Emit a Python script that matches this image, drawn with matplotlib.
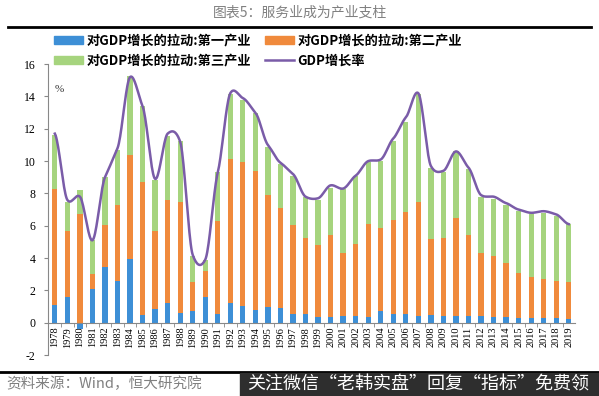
import numpy as np
import matplotlib.pyplot as plt
from matplotlib.patches import Rectangle, Patch
from matplotlib.lines import Line2D

plt.rcParams['font.family'] = ['Noto Sans CJK SC', 'DejaVu Sans']

years = [str(y) for y in range(1978, 2020)]
primary = [1.1, 1.6, -0.4, 2.1, 3.45, 2.6, 3.95, 0.45, 0.85, 1.2,
           0.6, 0.7, 1.6, 0.55, 1.2, 1.05, 0.8, 1.0, 0.9, 0.55,
           0.55, 0.35, 0.35, 0.4, 0.4, 0.35, 0.7, 0.55, 0.55, 0.4,
           0.5, 0.4, 0.4, 0.4, 0.4, 0.35, 0.35, 0.3, 0.3, 0.3,
           0.3, 0.25]
secondary = [7.2, 4.05, 6.7, 0.9, 2.6, 4.7, 6.4, 8.25, 4.85, 6.4,
             6.9, 1.8, 1.6, 5.75, 8.95, 8.9, 8.6, 6.9, 6.2, 5.5,
             4.7, 4.45, 5.1, 3.9, 4.5, 5.75, 5.15, 5.8, 6.3, 7.05,
             4.65, 4.85, 6.1, 5.0, 3.9, 3.75, 3.35, 2.8, 2.55, 2.4,
             2.3, 2.25]
tertiary = [3.3, 1.85, 1.5, 2.1, 2.95, 3.4, 4.9, 4.7, 3.15, 3.95,
            3.75, 1.6, 0.65, 3.05, 4.0, 3.85, 3.6, 2.95, 2.75, 3.0,
            2.55, 2.8, 2.9, 3.95, 4.15, 3.85, 4.15, 4.9, 5.6, 6.7,
            4.4, 4.05, 4.1, 4.1, 3.45, 3.55, 3.6, 3.8, 3.9, 4.1,
            4.0, 3.6]
gdp = [11.7, 7.6, 7.8, 5.1, 9.0, 10.8, 15.2, 13.4, 8.9, 11.7,
       11.2, 4.2, 3.9, 9.3, 14.2, 13.9, 13.0, 11.0, 9.9, 9.2,
       7.8, 7.7, 8.5, 8.3, 9.1, 10.0, 10.1, 11.4, 12.7, 14.2,
       9.7, 9.4, 10.6, 9.6, 7.9, 7.8, 7.4, 7.0, 6.8, 6.9,
       6.7, 6.1]

labels = ['对GDP增长的拉动:第一产业', '对GDP增长的拉动:第二产业',
          '对GDP增长的拉动:第三产业', 'GDP增长率']
c_blue = '#3d8fd6'
c_orange = '#f08a3c'
c_green = '#a6d47e'
c_line = '#7a5ca8'

x = np.arange(len(years))
p = np.array(primary)
s = np.array(secondary)
t = np.array(tertiary)
base = np.maximum(p, 0)

fig = plt.figure(figsize=(5.99, 3.96), dpi=100)
ax = fig.add_axes([0.080, 0.1035, 0.880, 0.7345])

w = 0.42
ax.bar(x, p, w, color=c_blue, zorder=2)
ax.bar(x, s, w, bottom=base, color=c_orange, zorder=2)
ax.bar(x, t, w, bottom=base + s, color=c_green, zorder=2)

# smoothed line, softer tangents so it doesn't overshoot much
g = np.array(gdp)
gp = np.concatenate([[g[0]], g, [g[-1]]])
xs, ys = [], []
for i in range(len(g) - 1):
    p0, p1, p2, p3 = gp[i], gp[i + 1], gp[i + 2], gp[i + 3]
    m1 = (p2 - p0) * 0.3
    m2 = (p3 - p1) * 0.3
    tt = np.linspace(0, 1, 20)
    h00 = 2 * tt**3 - 3 * tt**2 + 1
    h10 = tt**3 - 2 * tt**2 + tt
    h01 = -2 * tt**3 + 3 * tt**2
    h11 = tt**3 - tt**2
    xs.extend(x[i] + tt)
    ys.extend(h00 * p1 + h10 * m1 + h01 * p2 + h11 * m2)
ax.plot(xs, ys, color=c_line, lw=1.8, zorder=3)

ax.set_ylim(-2, 16)
ax.set_xlim(-0.55, 41.5)
ax.set_yticks(range(-2, 17, 2))
ax.set_yticklabels([str(v) for v in range(-2, 17, 2)], family='Liberation Serif', fontsize=8.5)
ax.tick_params(axis='y', length=3, color='#888888', pad=6)
ax.spines['top'].set_visible(False)
ax.spines['right'].set_visible(False)
ax.spines['left'].set_color('#888888')
ax.spines['bottom'].set_position(('data', 0))
ax.spines['bottom'].set_color('#888888')
ax.set_xticks(x)
ax.set_xticklabels(years, rotation=90, family='Liberation Serif', fontsize=7.5)
ax.tick_params(axis='x', length=0, pad=3)
ax.set_xticks(x[:-1] + 0.5, minor=True)
ax.tick_params(axis='x', which='minor', length=3, color='#888888')
ax.text(0.012, 0.905, '%', transform=ax.transAxes, fontsize=8, family='Liberation Serif', color='#333333')

handles = [Patch(color=c_blue), Patch(color=c_green), Patch(color=c_orange),
           Line2D([], [], color=c_line, lw=1.8)]
leg_labels = [labels[0], labels[2], labels[1], labels[3]]
fig.legend(handles, leg_labels, ncol=2, loc='upper left', bbox_to_anchor=(0.09, 0.915),
           frameon=False, prop={'size': 9.5, 'weight': 'bold'}, handlelength=2.2,
           handleheight=0.55, handletextpad=0.3, columnspacing=1.0, labelspacing=0.45,
           borderaxespad=0, borderpad=0)

fig.text(0.5, 0.968, '图表5：服务业成为产业支柱', ha='center', va='center', fontsize=10,
         color='#808080', weight='light')
fig.add_artist(Line2D([0.013, 0.987], [0.932, 0.932], color='black', lw=2))
fig.add_artist(Line2D([0.0, 1.0], [0.061, 0.061], color='black', lw=2))
fig.text(0.01, 0.032, '资料来源：Wind，恒大研究院', ha='left', va='center', fontsize=10.5,
         color='#808080', style='italic')
fig.add_artist(Rectangle((0.40, 0.0), 0.60, 0.058, transform=fig.transFigure,
                         color='#2e2e2e', zorder=5))
fig.text(0.412, 0.029, '关注微信“老韩实盘”回复“指标”免费领', ha='left', va='center',
         fontsize=13, color='white', zorder=6)

fig.savefig('out.png', dpi=100)
